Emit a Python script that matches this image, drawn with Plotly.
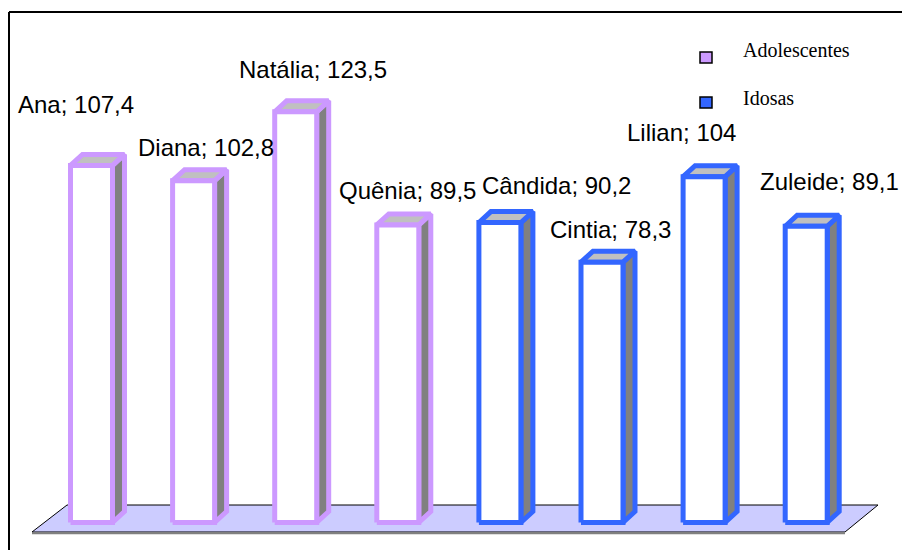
import plotly.graph_objects as go

# ---- data ----
names = ["Ana", "Diana", "Natália", "Quênia", "Cândida", "Cintia", "Lilian", "Zuleide"]
values = [107.4, 102.8, 123.5, 89.5, 90.2, 78.3, 104, 89.1]
groups = ["Adolescentes"] * 4 + ["Idosas"] * 4
group_names = ["Adolescentes", "Idosas"]

# ---- style ----
group_colors = {"Adolescentes": "#CC99FF", "Idosas": "#3366FF"}
FRONT_FILL = "#FFFFFF"
SIDE_FILL = "#808080"
TOP_FILL = "#C0C0C0"
FLOOR_FILL = "#CCCCFF"
EDGE_W = 5

W, H = 902, 550
SLOT_PX = 102.1      # pixels per category slot
FIRST_PX = 91.5      # pixel centre of first bar
BASE_PX = 522.5      # pixel row of value 0
UNIT_PX = 3.325      # pixels per value unit

x_range = [-FIRST_PX / SLOT_PX, (W - FIRST_PX) / SLOT_PX]
y_range = [-(H - BASE_PX) / UNIT_PX, BASE_PX / UNIT_PX]

half = 21 / SLOT_PX          # half width of the front face
dx = 12 / SLOT_PX            # depth offset (x)
dy = 11 / UNIT_PX            # depth offset (y)


def px_x(p):
    return (p - FIRST_PX) / SLOT_PX


def px_y(p):
    return (BASE_PX - p) / UNIT_PX


# label offsets (pixels) from the top-left corner of each bar front
label_dx = [-55, -37, -38, -40, 1, -33, -58, -27]
label_dy = [61, 33, 42, 34, 37, 33, 44, 45]

fig = go.Figure()

# floor of the 3-D plot area
floor_px = [(32, 532), (845, 532), (878, 505), (67, 505), (32, 532)]
fig.add_trace(go.Scatter(
    x=[px_x(a) for a, b in floor_px], y=[px_y(b) for a, b in floor_px],
    mode="lines", fill="toself", fillcolor=FLOOR_FILL,
    line=dict(color="#000000", width=1), hoverinfo="skip", showlegend=False))
fig.add_trace(go.Scatter(
    x=[px_x(32), px_x(845)], y=[px_y(533.5), px_y(533.5)],
    mode="lines", line=dict(color="#808080", width=1.5),
    hoverinfo="skip", showlegend=False))

# 3-D bars: side face, top face and front face
for i, (n, v, g) in enumerate(zip(names, values, groups)):
    col = group_colors[g]
    xl, xr = i - half, i + half
    side_x = [xr, xr + dx, xr + dx, xr, xr]
    side_y = [0, dy, v + dy, v, 0]
    top_x = [xl, xr, xr + dx, xl + dx, xl]
    top_y = [v, v, v + dy, v + dy, v]
    front_x = [xl, xr, xr, xl, xl]
    front_y = [0, 0, v, v, 0]
    for fx, fy, fc in ((side_x, side_y, SIDE_FILL),
                       (top_x, top_y, TOP_FILL),
                       (front_x, front_y, FRONT_FILL)):
        fig.add_trace(go.Scatter(
            x=fx, y=fy, mode="lines", fill="toself", fillcolor=fc,
            line=dict(color=col, width=EDGE_W),
            name=n, hovertemplate=f"{n}: {v:g}<extra></extra>",
            showlegend=False))
    fig.add_annotation(
        x=xl, y=v, xref="x", yref="y",
        text=f"{n}; " + f"{v:g}".replace(".", ","),
        showarrow=False, xanchor="left", yanchor="middle",
        xshift=label_dx[i], yshift=label_dy[i],
        font=dict(family="Liberation Sans, Arial, sans-serif", size=24, color="#000000"))

# legend
legend_rows = [(57.5, 50), (102.5, 98)]
for gname, (sq_y, txt_y) in zip(group_names, legend_rows):
    fig.add_shape(type="rect", xref="paper", yref="paper",
                  x0=700 / W, x1=712 / W,
                  y0=1 - (sq_y + 5.5) / H, y1=1 - (sq_y - 5.5) / H,
                  fillcolor=group_colors[gname],
                  line=dict(color="#000000", width=1.5))
    fig.add_annotation(x=741 / W, y=1 - txt_y / H, xref="paper", yref="paper",
                       text=gname, showarrow=False, xanchor="left", yanchor="middle",
                       font=dict(family="Liberation Serif, Times New Roman, serif",
                                 size=20, color="#000000"))

# chart frame
fig.add_shape(type="line", xref="paper", yref="paper",
              x0=9 / W, x1=9 / W, y0=0, y1=1 - 12 / H,
              line=dict(color="#000000", width=2))
fig.add_shape(type="line", xref="paper", yref="paper",
              x0=9 / W, x1=1, y0=1 - 12 / H, y1=1 - 12 / H,
              line=dict(color="#000000", width=2))

fig.update_layout(
    width=W, height=H,
    margin=dict(l=0, r=0, t=0, b=0),
    paper_bgcolor="#FFFFFF", plot_bgcolor="#FFFFFF",
    xaxis=dict(range=x_range, visible=False, fixedrange=True),
    yaxis=dict(range=y_range, visible=False, fixedrange=True),
    showlegend=False,
)

fig.write_html("out.html")
